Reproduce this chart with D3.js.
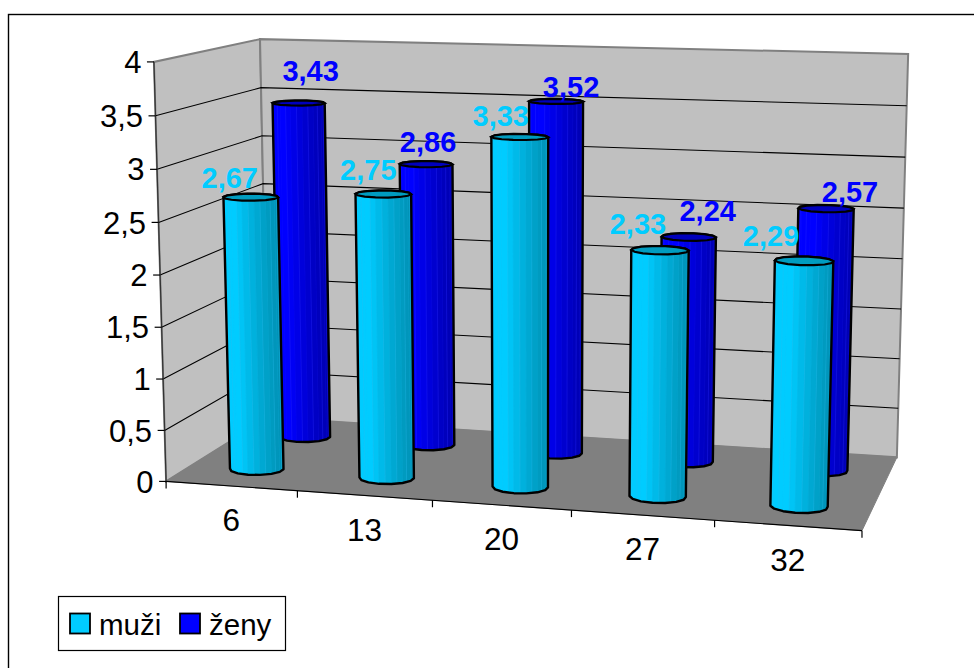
<!DOCTYPE html>
<html>
<head>
<meta charset="utf-8">
<script src="https://cdn.jsdelivr.net/npm/d3@7/dist/d3.min.js"></script>
<style>
html,body{margin:0;padding:0;background:#fff}
svg{display:block}
text{font-family:"Liberation Sans",Arial,sans-serif}
</style>
</head>
<body>
<svg id="chart" width="974" height="668"></svg>
<script>
// Chart values
const categories = ["6", "13", "20", "27", "32"];
const seriesNames = ["muži", "ženy"];
const muzi = [2.67, 2.75, 3.33, 2.33, 2.29];
const zeny = [3.43, 2.86, 3.52, 2.24, 2.57];
const valueTicks = [0, 0.5, 1, 1.5, 2, 2.5, 3, 3.5, 4];

// Colours per series: lit side, shaded side, cap
const palette = {
  "muži": {light: "#00ccff", dark: "#0094b8", cap: "#009cc0", seam: "#33b8e8"},
  "ženy": {light: "#0000ff", dark: "#0000b4", cap: "#0000bc", seam: "#3a3aff"}
};

// Room corners on screen, used to calibrate the perspective camera
const calibration = [
  [0, 0, 0, 167, 481], [0, 1, 0, 153, 62], [1, 0, 0, 862, 531],
  [0, 0, 1, 267, 418], [0, 1, 1, 261, 39], [1, 0, 1, 897, 457], [1, 1, 1, 908, 54]
];

// Least-squares fit of a 3x4 projection with the last entry fixed at 1
function fitCamera(pts) {
  const rows = [], rhs = [];
  pts.forEach(([X, Y, Z, px, py]) => {
    const x = px / 1000, y = py / 1000;
    rows.push([X, Y, Z, 1, 0, 0, 0, 0, -x * X, -x * Y, -x * Z]); rhs.push(x);
    rows.push([0, 0, 0, 0, X, Y, Z, 1, -y * X, -y * Y, -y * Z]); rhs.push(y);
  });
  const n = 11;
  const A = d3.range(n).map(i => d3.range(n + 1).map(j =>
    d3.sum(rows, (r, k) => r[i] * (j < n ? r[j] : rhs[k])) + (i === j ? 1e-9 : 0)));
  for (let i = 0; i < n; i++) {
    let best = i;
    for (let k = i + 1; k < n; k++) if (Math.abs(A[k][i]) > Math.abs(A[best][i])) best = k;
    [A[i], A[best]] = [A[best], A[i]];
    for (let k = 0; k < n; k++) {
      if (k === i) continue;
      const f = A[k][i] / A[i][i];
      for (let j = i; j <= n; j++) A[k][j] -= f * A[i][j];
    }
  }
  return A.map((r, i) => r[n] / r[i]);
}
const cam = fitCamera(calibration);
function project(X, Y, Z) {
  const w = cam[8] * X + cam[9] * Y + cam[10] * Z + 1;
  return [1000 * (cam[0] * X + cam[1] * Y + cam[2] * Z + cam[3]) / w,
          1000 * (cam[4] * X + cam[5] * Y + cam[6] * Z + cam[7]) / w];
}

// Scales from data space into the unit room
const xBand = d3.scaleBand().domain(categories).range([0, 1]);
const yVal = d3.scaleLinear().domain([0, 4]).range([0, 1]);
const zPos = d3.scalePoint().domain(seriesNames).range([0.245, 0.745]);

const radiusX = 0.0398, radiusZ = 0.085, facets = 14, stripsPerFacet = 2;
const line = d3.line();
const svg = d3.select("#chart");

// Chart frame
svg.append("rect").attr("x", 8.5).attr("y", 14.5).attr("width", 975).attr("height", 665)
  .attr("fill", "#fff").attr("stroke", "#000").attr("stroke-width", 1.4);

// Walls and floor
const poly = (pts, fill, stroke, sw) => svg.append("path").attr("d", line(pts) + "Z")
  .attr("fill", fill).attr("stroke", stroke || "none").attr("stroke-width", sw || 0);
poly([project(0,0,0), project(0,1,0), project(0,1,1), project(0,0,1)], "#c0c0c0", "#808080", 2);
poly([project(0,0,1), project(0,1,1), project(1,1,1), project(1,0,1)], "#c0c0c0", "#808080", 2);

// Gridlines run along the left wall and across the back wall
const grid = svg.append("g").attr("fill", "none").attr("stroke", "#000").attr("stroke-width", 1.1);
valueTicks.filter(v => v > 0 && v < 4).forEach(v => {
  const y = yVal(v);
  grid.append("path").attr("d", line([project(0,y,0), project(0,y,1), project(1,y,1)]));
});

poly([project(0,0,0), project(1,0,0), project(1,0,1), project(0,0,1)], "#808080", "#808080", 1);

// Axes on the front edge
const axes = svg.append("g").attr("stroke", "#000").attr("stroke-width", 1.2).attr("fill", "none");
axes.append("path").attr("d", line([project(0,0,0), project(0,1,0)])).attr("stroke", "#333");
axes.append("path").attr("d", line([project(0,0,0), project(1,0,0)]));
valueTicks.forEach(v => {
  const p = project(0, yVal(v), 0);
  axes.append("path").attr("d", line([[p[0] - 7, p[1]], p]));
  svg.append("text").attr("x", p[0] - 12.5).attr("y", p[1]).attr("dy", "0.36em")
    .attr("text-anchor", "end").attr("font-size", 31).text(String(v).replace(".", ","));
});
d3.range(categories.length + 1).forEach(i => {
  const p = project(i / categories.length, 0, 0);
  axes.append("path").attr("d", line([p, [p[0], p[1] + 7]]));
});
categories.forEach(c => {
  const p = project(xBand(c) + xBand.bandwidth() / 2, 0, 0);
  svg.append("text").attr("x", p[0]).attr("y", p[1] + 34).attr("dy", "0.36em")
    .attr("text-anchor", "middle").attr("font-size", 31.5).text(c);
});

// One faceted cylinder per value; the farther series is painted first
function cylinder(cat, name, value) {
  const colors = palette[name];
  const cx = xBand(cat) + xBand.bandwidth() / 2, cz = zPos(name), h = yVal(value);
  const corner = (Y, a) => project(cx + radiusX * Math.cos(a), Y, cz + radiusZ * Math.sin(a));
  const lerp = (p, q, t) => [p[0] + (q[0] - p[0]) * t, p[1] + (q[1] - p[1]) * t];
  const angles = d3.range(facets + 1).map(i => 2 * Math.PI * i / facets + Math.PI / facets);
  const g = svg.append("g");
  const shade = d3.scaleLinear().domain([-1, -0.3, 1]).range([colors.light, colors.light, colors.dark])
    .interpolate(d3.interpolateRgb);
  const outline = d3.polygonHull(angles.flatMap(a => [corner(0, a), corner(h, a)]));
  g.append("path").attr("d", line(outline) + "Z").attr("fill", colors.light);
  angles.slice(0, -1).forEach((a, i) => {
    const b = angles[i + 1];
    if (Math.sin((a + b) / 2) > 0) return;
    // Each rim facet is split into narrower vertical strips
    d3.range(stripsPerFacet).forEach(s => {
      const t0 = s / stripsPerFacet, t1 = (s + 1) / stripsPerFacet;
      const base = [lerp(corner(0, a), corner(0, b), t0), lerp(corner(0, a), corner(0, b), t1)];
      const top = [lerp(corner(h, a), corner(h, b), t0), lerp(corner(h, a), corner(h, b), t1)];
      const tone = shade(Math.cos(a + (b - a) * (t0 + t1) / 2));
      g.append("path").attr("d", line([base[0], top[0], top[1], base[1]]) + "Z")
        .attr("fill", tone)
        .attr("stroke", s ? colors.seam : tone)
        .attr("stroke-opacity", s ? 0.45 : 1)
        .attr("stroke-width", 0.6);
    });
  });
  g.append("path").attr("d", line(outline) + "Z").attr("fill", "none")
    .attr("stroke", "#000").attr("stroke-width", 2.4).attr("stroke-linejoin", "round");
  g.append("path").attr("d", line(angles.map(a => corner(h, a))) + "Z")
    .attr("fill", colors.cap).attr("stroke", "#000").attr("stroke-width", 2.2);
}
const seriesValues = {"muži": muzi, "ženy": zeny};
["ženy", "muži"].forEach(name => categories.forEach((c, i) => cylinder(c, name, seriesValues[name][i])));

// Value labels sit above the caps, nudged per label to stay readable
const labelNudge = {
  "muži": [[-21, -20], [-15, -24], [-19, -21], [-22, -27], [-33, -25]],
  "ženy": [[12, -32.5], [2, -22.5], [15, -14.5], [19, -26.5], [24, -17.5]]
};
const labelColor = {"muži": "#00ccff", "ženy": "#0000ff"};
seriesNames.forEach(name => categories.forEach((c, i) => {
  const v = seriesValues[name][i];
  const p = project(xBand(c) + xBand.bandwidth() / 2, yVal(v), zPos(name));
  const [dx, dy] = labelNudge[name][i];
  svg.append("text").attr("x", p[0] + dx).attr("y", p[1] + dy).attr("dy", "0.36em")
    .attr("text-anchor", "middle").attr("font-size", 29).attr("font-weight", "bold")
    .attr("fill", labelColor[name]).text(String(v).replace(".", ","));
}));

// Legend
const legend = svg.append("g");
legend.append("rect").attr("x", 58.5).attr("y", 596.5).attr("width", 227).attr("height", 54)
  .attr("fill", "#fff").attr("stroke", "#000").attr("stroke-width", 1.2);
const legendLayout = d3.scaleOrdinal().domain(seriesNames).range([70, 180]);
seriesNames.forEach(name => {
  const x = legendLayout(name);
  legend.append("rect").attr("x", x).attr("y", 613.5).attr("width", 20).attr("height", 20)
    .attr("fill", labelColor[name]).attr("stroke", "#000").attr("stroke-width", 1.8);
  legend.append("text").attr("x", x + 29).attr("y", 624).attr("dy", "0.36em")
    .attr("font-size", 29.5).text(name);
});
</script>
</body>
</html>
